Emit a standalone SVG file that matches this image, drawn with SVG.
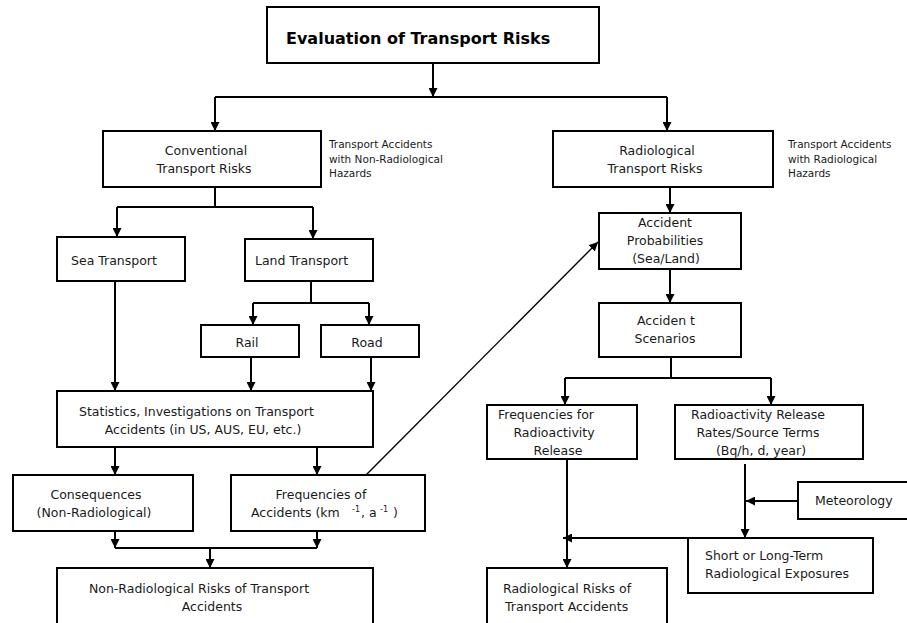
<svg xmlns="http://www.w3.org/2000/svg" width="907" height="623" viewBox="0 0 907 623">
<defs>
<style>
.box{fill:#fff;stroke:#000;stroke-width:2}
.t{font-family:"DejaVu Sans","Liberation Sans",sans-serif;font-size:12.5px;fill:#1a1a1a}
.m{text-anchor:middle}
.s{font-family:"DejaVu Sans","Liberation Sans",sans-serif;font-size:10.5px;fill:#1a1a1a}
.sup{font-size:8px}
.title{font-family:"DejaVu Sans","Liberation Sans",sans-serif;font-size:16px;font-weight:bold;fill:#000}
.c{fill:none;stroke:#000;stroke-width:2}
.d{fill:none;stroke:#000;stroke-width:1.4}
</style>
<marker id="ah" viewBox="0 0 10 10" refX="10" refY="5" markerWidth="9" markerHeight="9" markerUnits="userSpaceOnUse" orient="auto"><path d="M0,0 L10,5 L0,10 z" fill="#000"/></marker>
</defs>
<rect width="907" height="623" fill="#fff"/>

<g id="connectors">
<path class="c" d="M433,63 V97" marker-end="url(#ah)"/>
<path class="c" d="M215,97 H667"/>
<path class="c" d="M215,97 V131" marker-end="url(#ah)"/>
<path class="c" d="M667,97 V131" marker-end="url(#ah)"/>
<path class="c" d="M215,187 V207"/>
<path class="c" d="M117,207 H313"/>
<path class="c" d="M117,207 V237" marker-end="url(#ah)"/>
<path class="c" d="M313,207 V239" marker-end="url(#ah)"/>
<path class="c" d="M311,281 V303"/>
<path class="c" d="M253,303 H369"/>
<path class="c" d="M253,303 V325" marker-end="url(#ah)"/>
<path class="c" d="M369,303 V325" marker-end="url(#ah)"/>
<path class="c" d="M115,281 V391" marker-end="url(#ah)"/>
<path class="c" d="M251,357 V391" marker-end="url(#ah)"/>
<path class="c" d="M371,357 V391" marker-end="url(#ah)"/>
<path class="c" d="M115,447 V475" marker-end="url(#ah)"/>
<path class="c" d="M317,447 V475" marker-end="url(#ah)"/>
<path class="c" d="M115,531 V548" marker-end="url(#ah)"/>
<path class="c" d="M317,531 V548" marker-end="url(#ah)"/>
<path class="c" d="M115,548 H317"/>
<path class="c" d="M210,548 V568" marker-end="url(#ah)"/>
<path class="d" d="M366,475 L598,242" marker-end="url(#ah)"/>
<path class="c" d="M670,187 V213" marker-end="url(#ah)"/>
<path class="c" d="M670,269 V303" marker-end="url(#ah)"/>
<path class="c" d="M671,357 V378"/>
<path class="c" d="M565,378 H771"/>
<path class="c" d="M565,378 V405" marker-end="url(#ah)"/>
<path class="c" d="M771,378 V405" marker-end="url(#ah)"/>
<path class="c" d="M567,459 V568" marker-end="url(#ah)"/>
<path class="c" d="M745,464 V538" marker-end="url(#ah)"/>
<path class="c" d="M798,501 H746" marker-end="url(#ah)"/>
<path class="c" d="M688,538 H563" marker-end="url(#ah)"/>
</g>

<g id="title">
<rect class="box" x="267" y="7" width="332" height="56"/>
<text class="title" x="286" y="44">Evaluation of Transport Risks</text>
</g>

<g id="conventional">
<rect class="box" x="103" y="131" width="218" height="56"/>
<text class="t m" x="206" y="155">Conventional</text>
<text class="t m" x="204" y="173">Transport Risks</text>
</g>
<g id="conventional-note">
<text class="s" x="329" y="148">Transport Accidents</text>
<text class="s" x="329" y="163">with Non-Radiological</text>
<text class="s" x="329" y="177">Hazards</text>
</g>

<g id="radiological">
<rect class="box" x="553" y="131" width="220" height="56"/>
<text class="t m" x="657" y="155">Radiological</text>
<text class="t m" x="655" y="173">Transport Risks</text>
</g>
<g id="radiological-note">
<text class="s" x="788" y="148">Transport Accidents</text>
<text class="s" x="788" y="163">with Radiological</text>
<text class="s" x="788" y="177">Hazards</text>
</g>

<g id="sea">
<rect class="box" x="57" y="237" width="128" height="44"/>
<text class="t" x="71" y="265">Sea Transport</text>
</g>

<g id="land">
<rect class="box" x="245" y="239" width="128" height="42"/>
<text class="t" x="255" y="265">Land Transport</text>
</g>

<g id="rail">
<rect class="box" x="201" y="325" width="98" height="32"/>
<text class="t m" x="247" y="347">Rail</text>
</g>

<g id="road">
<rect class="box" x="321" y="325" width="98" height="32"/>
<text class="t m" x="367" y="347">Road</text>
</g>

<g id="statistics">
<rect class="box" x="57" y="391" width="316" height="56"/>
<text class="t" x="79" y="416">Statistics, Investigations on Transport</text>
<text class="t m" x="203" y="434">Accidents (in US, AUS, EU, etc.)</text>
</g>

<g id="consequences">
<rect class="box" x="13" y="475" width="180" height="56"/>
<text class="t m" x="96" y="499">Consequences</text>
<text class="t m" x="94" y="517">(Non-Radiological)</text>
</g>

<g id="frequencies">
<rect class="box" x="231" y="475" width="194" height="56"/>
<text class="t m" x="321" y="499">Frequencies of</text>
<text class="t" y="517"><tspan x="251">Accidents (km</tspan><tspan class="sup" x="352" dy="-5">-1</tspan><tspan x="361" dy="5">, a</tspan><tspan class="sup" x="380" dy="-5">-1</tspan><tspan x="393" dy="5">)</tspan></text>
</g>

<g id="nonrad-risks">
<rect class="box" x="57" y="568" width="316" height="70"/>
<text class="t m" x="199" y="593">Non-Radiological Risks of Transport</text>
<text class="t m" x="212" y="611">Accidents</text>
</g>

<g id="probabilities">
<rect class="box" x="599" y="213" width="142" height="56"/>
<text class="t m" x="665" y="227">Accident</text>
<text class="t m" x="665" y="245">Probabilities</text>
<text class="t m" x="666" y="263">(Sea/Land)</text>
</g>

<g id="scenarios">
<rect class="box" x="599" y="303" width="142" height="54"/>
<text class="t m" x="666" y="325">Acciden t</text>
<text class="t m" x="665" y="343">Scenarios</text>
</g>

<g id="freq-release">
<rect class="box" x="487" y="405" width="150" height="54"/>
<text class="t m" x="546" y="419">Frequencies for</text>
<text class="t m" x="554" y="437">Radioactivity</text>
<text class="t m" x="558" y="455">Release</text>
</g>

<g id="release-rates">
<rect class="box" x="675" y="405" width="188" height="54"/>
<text class="t m" x="758" y="419">Radioactivity Release</text>
<text class="t m" x="758" y="437">Rates/Source Terms</text>
<text class="t m" x="761" y="455">(Bq/h, d, year)</text>
</g>

<g id="meteorology">
<rect class="box" x="798" y="482" width="120" height="37"/>
<text class="t" x="815" y="505">Meteorology</text>
</g>

<g id="exposures">
<rect class="box" x="688" y="538" width="185" height="55"/>
<text class="t" x="705" y="560">Short or Long-Term</text>
<text class="t" x="705" y="578">Radiological Exposures</text>
</g>

<g id="rad-risks">
<rect class="box" x="487" y="568" width="180" height="70"/>
<text class="t" x="503" y="593">Radiological Risks of</text>
<text class="t" x="505" y="611">Transport Accidents</text>
</g>
</svg>
